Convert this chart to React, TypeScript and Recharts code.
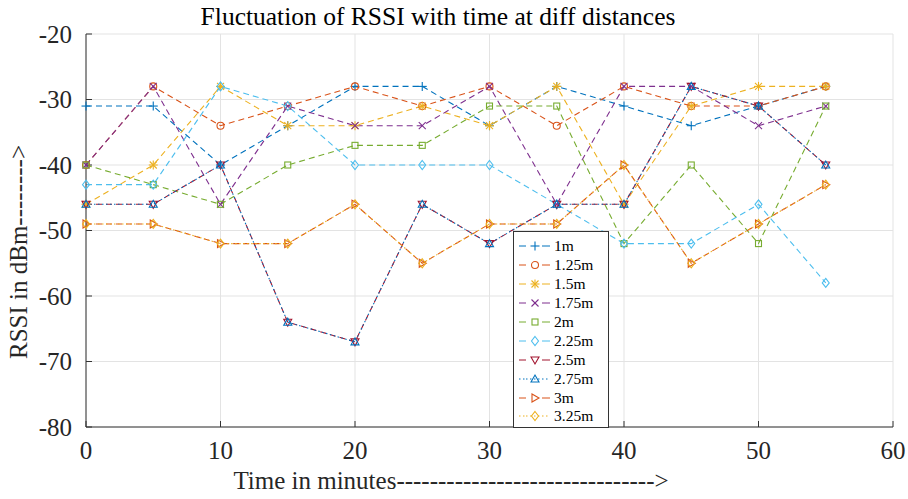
import React from 'react';
import { LineChart, Line, XAxis, YAxis, CartesianGrid } from 'recharts';

// minutes
const TIME = [0, 5, 10, 15, 20, 25, 30, 35, 40, 45, 50, 55];

// RSSI in dBm, one array per distance
const RSSI_1M = [-31, -31, -40, -34, -28, -28, -34, -28, -31, -34, -31, -28];
const RSSI_125M = [-40, -28, -34, -31, -28, -31, -28, -34, -28, -31, -31, -28];
const RSSI_15M = [-46, -40, -28, -34, -34, -31, -34, -28, -46, -31, -28, -28];
const RSSI_175M = [-40, -28, -46, -31, -34, -34, -28, -46, -28, -28, -34, -31];
const RSSI_2M = [-40, -43, -46, -40, -37, -37, -31, -31, -52, -40, -52, -31];
const RSSI_225M = [-43, -43, -28, -31, -40, -40, -40, -46, -52, -52, -46, -58];
const RSSI_25M = [-46, -46, -40, -64, -67, -46, -52, -46, -46, -28, -31, -40];
const RSSI_275M = [-46, -46, -40, -64, -67, -46, -52, -46, -46, -28, -31, -40];
const RSSI_3M = [-49, -49, -52, -52, -46, -55, -49, -49, -40, -55, -49, -43];
const RSSI_325M = [-49, -49, -52, -52, -46, -55, -49, -49, -40, -55, -49, -43];

const X_TICKS = [0, 10, 20, 30, 40, 50, 60];
const Y_TICKS = [-80, -70, -60, -50, -40, -30, -20];

const DASH = '6 4';
const DOT = '1.5 2.5';

const series = [
  { key: 's1', name: '1m', values: RSSI_1M, color: '#0072BD', dash: DASH, marker: 'plus' },
  { key: 's2', name: '1.25m', values: RSSI_125M, color: '#D95319', dash: DASH, marker: 'circle' },
  { key: 's3', name: '1.5m', values: RSSI_15M, color: '#EDB120', dash: DASH, marker: 'star' },
  { key: 's4', name: '1.75m', values: RSSI_175M, color: '#7E2F8E', dash: DASH, marker: 'cross' },
  { key: 's5', name: '2m', values: RSSI_2M, color: '#77AC30', dash: DASH, marker: 'square' },
  { key: 's6', name: '2.25m', values: RSSI_225M, color: '#4DBEEE', dash: DASH, marker: 'diamond' },
  { key: 's7', name: '2.5m', values: RSSI_25M, color: '#A2142F', dash: DASH, marker: 'triDown' },
  { key: 's8', name: '2.75m', values: RSSI_275M, color: '#0072BD', dash: DOT, marker: 'triUp' },
  { key: 's9', name: '3m', values: RSSI_3M, color: '#D95319', dash: DASH, marker: 'triRight' },
  { key: 's10', name: '3.25m', values: RSSI_325M, color: '#EDB120', dash: DOT, marker: 'diamond' },
];

const data = TIME.map((t, i) => {
  const row: any = { t };
  series.forEach((s) => { row[s.key] = s.values[i]; });
  return row;
});

const FONT = '"Liberation Serif", "DejaVu Serif", serif';

const Marker = ({ cx, cy, type, color }: any) => {
  const r = 3.5;
  const common = { stroke: color, strokeWidth: 1.1, fill: 'none' };
  switch (type) {
    case 'plus':
      return <g {...common}><line x1={cx - r - 1} y1={cy} x2={cx + r + 1} y2={cy} /><line x1={cx} y1={cy - r - 1} x2={cx} y2={cy + r + 1} /></g>;
    case 'circle':
      return <circle cx={cx} cy={cy} r={r} {...common} />;
    case 'star':
      return (
        <g {...common}>
          <line x1={cx - r - 1} y1={cy} x2={cx + r + 1} y2={cy} />
          <line x1={cx} y1={cy - r - 1} x2={cx} y2={cy + r + 1} />
          <line x1={cx - r} y1={cy - r} x2={cx + r} y2={cy + r} />
          <line x1={cx - r} y1={cy + r} x2={cx + r} y2={cy - r} />
        </g>
      );
    case 'cross':
      return <g {...common}><line x1={cx - r} y1={cy - r} x2={cx + r} y2={cy + r} /><line x1={cx - r} y1={cy + r} x2={cx + r} y2={cy - r} /></g>;
    case 'square':
      return <rect x={cx - 3} y={cy - 3} width={6} height={6} {...common} />;
    case 'diamond':
      return <polygon points={`${cx},${cy - 4.5} ${cx + 3.5},${cy} ${cx},${cy + 4.5} ${cx - 3.5},${cy}`} {...common} />;
    case 'triDown':
      return <polygon points={`${cx - 4},${cy - 3} ${cx + 4},${cy - 3} ${cx},${cy + 4}`} {...common} />;
    case 'triUp':
      return <polygon points={`${cx - 4},${cy + 3} ${cx + 4},${cy + 3} ${cx},${cy - 4}`} {...common} />;
    case 'triRight':
      return <polygon points={`${cx - 3},${cy - 4} ${cx - 3},${cy + 4} ${cx + 4},${cy}`} {...common} />;
    default:
      return null;
  }
};

const LegendBox = () => (
  <div
    style={{
      position: 'absolute',
      left: 513,
      top: 231,
      background: '#fff',
      border: '1px solid #333',
      width: 96,
      height: 197,
      padding: '5px 0 0 0',
      fontFamily: FONT,
      fontSize: 15.5,
      color: '#000',
      boxSizing: 'border-box',
    }}
  >
    {series.map((s) => (
      <div key={s.key} style={{ display: 'flex', alignItems: 'center', height: 18.9 }}>
        <svg width={40} height={12} style={{ flex: 'none' }}>
          <line x1={5} y1={6} x2={12} y2={6} stroke={s.color} strokeWidth={1} strokeDasharray={s.dash === DOT ? DOT : undefined} />
          <line x1={28} y1={6} x2={36} y2={6} stroke={s.color} strokeWidth={1} strokeDasharray={s.dash === DOT ? DOT : undefined} />
          {s.dash === DOT && <line x1={12} y1={6} x2={28} y2={6} stroke={s.color} strokeWidth={1} strokeDasharray={DOT} />}
          <Marker cx={21} cy={6} type={s.marker} color={s.color} />
        </svg>
        <span style={{ lineHeight: '18px' }}>{s.name}</span>
      </div>
    ))}
  </div>
);

const emptyTick = () => <g />;

export default function App() {
  return (
    <div style={{ position: 'absolute', left: 0, top: 0, width: 908, height: 499, background: '#fff' }}>
      <LineChart
        width={908}
        height={499}
        data={data}
        margin={{ top: 34, right: 15, bottom: 42, left: 26 }}
      >
        <CartesianGrid stroke="#e3e3e3" strokeWidth={1} />
        <XAxis
          dataKey="t"
          type="number"
          domain={[0, 60]}
          ticks={X_TICKS}
          height={30}
          axisLine={{ stroke: '#333' }}
          tickLine={{ stroke: '#333' }}
          tickSize={-6}
          tickMargin={20}
          tick={{ fill: '#262626', fontSize: 25, fontFamily: FONT }}
        />
        <XAxis
          xAxisId="top"
          orientation="top"
          type="number"
          domain={[0, 60]}
          ticks={X_TICKS}
          height={0}
          axisLine={{ stroke: '#555' }}
          tickLine={{ stroke: '#555' }}
          tickSize={-6}
          tick={emptyTick}
        />
        <YAxis
          type="number"
          domain={[-80, -20]}
          ticks={Y_TICKS}
          width={60}
          axisLine={{ stroke: '#333' }}
          tickLine={{ stroke: '#333' }}
          tickSize={-6}
          tickMargin={20}
          tick={{ fill: '#262626', fontSize: 25, fontFamily: FONT }}
        />
        <YAxis
          yAxisId="right"
          orientation="right"
          type="number"
          domain={[-80, -20]}
          ticks={Y_TICKS}
          width={0}
          axisLine={{ stroke: '#555' }}
          tickLine={{ stroke: '#555' }}
          tickSize={-6}
          tick={emptyTick}
        />
        {series.map((s) => (
          <Line
            key={s.key}
            dataKey={s.key}
            name={s.name}
            stroke={s.color}
            strokeWidth={1.1}
            strokeDasharray={s.dash}
            isAnimationActive={false}
            activeDot={false}
            dot={(p: any) => <Marker key={`${s.key}-${p.index}`} cx={p.cx} cy={p.cy} type={s.marker} color={s.color} />}
          />
        ))}
      </LineChart>
      <LegendBox />
      <div
        style={{
          position: 'absolute', left: 0, width: 876, top: 3, textAlign: 'center',
          fontFamily: FONT, fontSize: 25.5, color: '#000', lineHeight: '28px', whiteSpace: 'nowrap',
        }}
      >
        Fluctuation of RSSI with time at diff distances
      </div>
      <div
        style={{
          position: 'absolute', left: 0, width: 902, top: 467, textAlign: 'center',
          fontFamily: FONT, fontSize: 25, color: '#262626', lineHeight: '28px', whiteSpace: 'nowrap',
        }}
      >
        Time in minutes-------------------------------&gt;
      </div>
      <div
        style={{
          position: 'absolute', left: 19, top: 252, transform: 'translate(-50%, -50%) rotate(-90deg)',
          whiteSpace: 'nowrap', fontFamily: FONT, fontSize: 25, color: '#262626', lineHeight: '28px',
        }}
      >
        RSSI in dBm--------&gt;
      </div>
    </div>
  );
}
